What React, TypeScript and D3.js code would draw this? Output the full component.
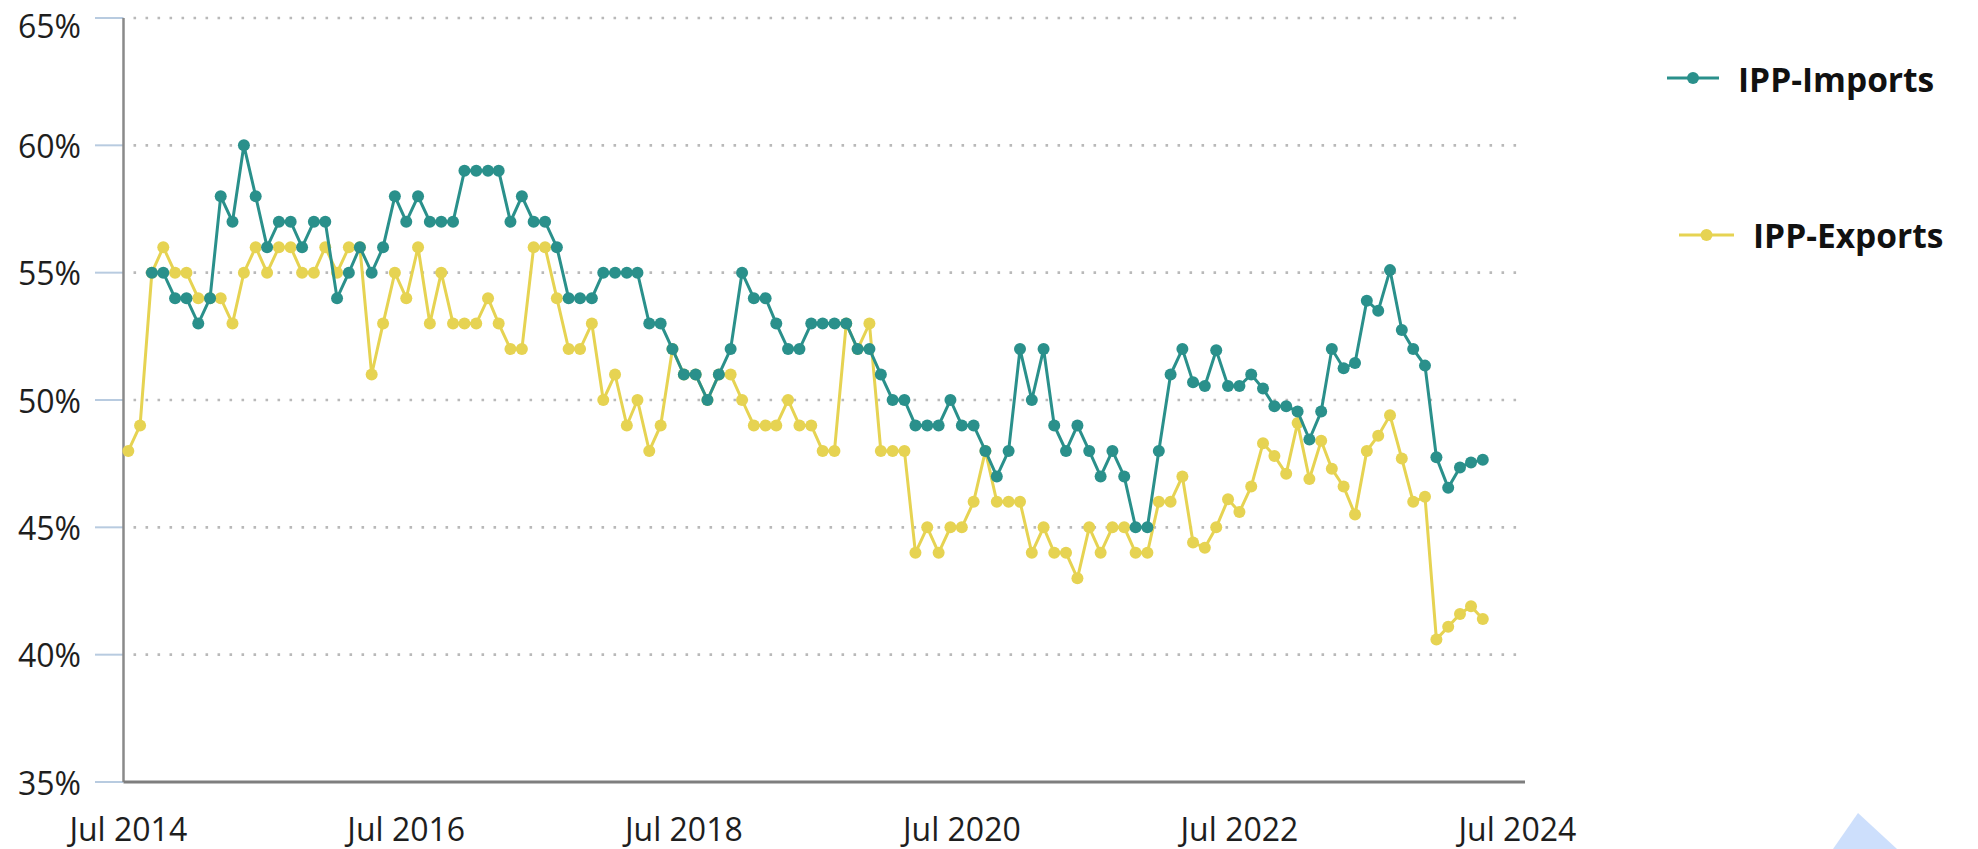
import React from "react";
import * as d3 from "d3";

// ---- data (monthly, Jul 2014 → Apr 2024) ----
const firstMonth = "2014-07";
const seriesNames = ["IPP-Imports", "IPP-Exports"];

const importsValues: (number | null)[] = [
  null, null, 55, 55, 54, 54, 53, 54, 58, 57, 60, 58, 56, 57, 57, 56, 57, 57, 54, 55,
  56, 55, 56, 58, 57, 58, 57, 57, 57, 59, 59, 59, 59, 57, 58, 57, 57, 56, 54, 54,
  54, 55, 55, 55, 55, 53, 53, 52, 51, 51, 50, 51, 52, 55, 54, 54, 53, 52, 52, 53,
  53, 53, 53, 52, 52, 51, 50, 50, 49, 49, 49, 50, 49, 49, 48, 47, 48, 52, 50, 52,
  49, 48, 49, 48, 47, 48, 47, 45, 45, 48, 51, 52, 50.7, 50.55, 51.95, 50.55, 50.55, 51.0, 50.45, 49.75,
  49.75, 49.55, 48.45, 49.55, 52.0, 51.25, 51.45, 53.9, 53.5, 55.1, 52.75, 52.0, 51.35, 47.75, 46.55, 47.35,
  47.55, 47.65,
];

const exportsValues: (number | null)[] = [
  48, 49, 55, 56, 55, 55, 54, 54, 54, 53, 55, 56, 55, 56, 56, 55, 55, 56, 55, 56,
  56, 51, 53, 55, 54, 56, 53, 55, 53, 53, 53, 54, 53, 52, 52, 56, 56, 54, 52, 52,
  53, 50, 51, 49, 50, 48, 49, 52, 51, 51, 50, 51, 51, 50, 49, 49, 49, 50, 49, 49,
  48, 48, 53, 52, 53, 48, 48, 48, 44, 45, 44, 45, 45, 46, 48, 46, 46, 46, 44, 45,
  44, 44, 43, 45, 44, 45, 45, 44, 44, 46, 46, 47, 44.4, 44.2, 45.0, 46.1, 45.6, 46.6, 48.3, 47.8,
  47.1, 49.1, 46.9, 48.4, 47.3, 46.6, 45.5, 48.0, 48.6, 49.4, 47.7, 46.0, 46.2, 40.6, 41.1, 41.6,
  41.9, 41.4,
];

const yTicks = [35, 40, 45, 50, 55, 60, 65];
const xTickLabels = ["Jul 2014", "Jul 2016", "Jul 2018", "Jul 2020", "Jul 2022", "Jul 2024"];

const colors = ["#2a908b", "#e6d352"];

// ---- layout ----
const W = 1978;
const H = 849;
const axisLeft = 123.5;
const axisRight = 1525;
const yTop = 18;
const yBottom = 782;

const parseMonth = d3.timeParse("%Y-%m");
const parseTick = d3.timeParse("%b %Y");
const start = parseMonth(firstMonth) as Date;
const months = exportsValues.map((_, i) => d3.timeMonth.offset(start, i));

const x = d3
  .scaleTime()
  .domain([parseTick("Jul 2014") as Date, parseTick("Jul 2024") as Date])
  .range([128.3, 1517.4]);
const y = d3.scaleLinear().domain([35, 65]).range([yBottom, yTop]);

type Pt = { d: Date; v: number | null };
const line = d3
  .line<Pt>()
  .defined((p) => p.v != null)
  .x((p) => x(p.d))
  .y((p) => y(p.v as number));

const series = [importsValues, exportsValues].map((vals) =>
  vals.map((v, i) => ({ d: months[i], v }))
);

const font = "'Open Sans', 'Noto Sans', sans-serif";

export default function App() {
  const drawOrder = [1, 0];
  return (
    <svg
      width={W}
      height={H}
      style={{ position: "absolute", left: 0, top: 0, display: "block", background: "#fff" }}
    >
      {/* gridlines */}
      {yTicks
        .filter((t) => t !== 35)
        .map((t) => (
          <line
            key={"g" + t}
            x1={axisLeft + 10}
            x2={axisRight}
            y1={y(t)}
            y2={y(t)}
            stroke="#b9b9b9"
            strokeWidth={2.6}
            strokeDasharray="2.6 9.4"
          />
        ))}
      {/* y tick marks */}
      {yTicks.map((t) => (
        <line key={"t" + t} x1={95} x2={axisLeft} y1={y(t)} y2={y(t)} stroke="#b8cbe0" strokeWidth={2} />
      ))}
      {/* y labels */}
      {yTicks.map((t) => (
        <text
          key={"l" + t}
          x={81}
          y={t === 65 ? y(t) + 7 : y(t)}
          textAnchor="end"
          dominantBaseline="central"
          fontFamily={font}
          fontSize={32}
          fill="#1e1e1e"
        >
          {t}%
        </text>
      ))}
      {/* axes */}
      <line x1={axisLeft} x2={axisLeft} y1={yTop} y2={yBottom} stroke="#8a8a8a" strokeWidth={2.5} />
      <line x1={axisLeft} x2={axisRight} y1={yBottom} y2={yBottom} stroke="#7e7e7e" strokeWidth={3.2} />
      {/* x labels */}
      {xTickLabels.map((lab) => (
        <text
          key={lab}
          x={x(parseTick(lab) as Date)}
          y={841}
          textAnchor="middle"
          fontFamily={font}
          fontSize={32}
          fill="#1e1e1e"
        >
          {lab}
        </text>
      ))}
      {/* series */}
      {drawOrder.map((si) => (
        <g key={"s" + si}>
          <path d={line(series[si]) || ""} fill="none" stroke={colors[si]} strokeWidth={3} />
          {series[si]
            .filter((p) => p.v != null)
            .map((p, i) => (
              <circle key={i} cx={x(p.d)} cy={y(p.v as number)} r={6} fill={colors[si]} />
            ))}
        </g>
      ))}
      {/* legend */}
      {[
        { lx1: 1667, lx2: 1719, ly: 78, tx: 1738, ty: 92 },
        { lx1: 1679, lx2: 1734, ly: 235, tx: 1753, ty: 248 },
      ].map((l, i) => (
        <g key={"lg" + i}>
          <line x1={l.lx1} x2={l.lx2} y1={l.ly} y2={l.ly} stroke={colors[i]} strokeWidth={3} />
          <circle cx={(l.lx1 + l.lx2) / 2} cy={l.ly} r={6} fill={colors[i]} />
          <text x={l.tx} y={l.ty} fontFamily={font} fontWeight={700} fontSize={33.5} fill="#111">
            {seriesNames[i]}
          </text>
        </g>
      ))}
      {/* decorative triangle at bottom right */}
      <path d="M1858,813 L1897,849 L1833,849 Z" fill="#cddffc" />
    </svg>
  );
}
